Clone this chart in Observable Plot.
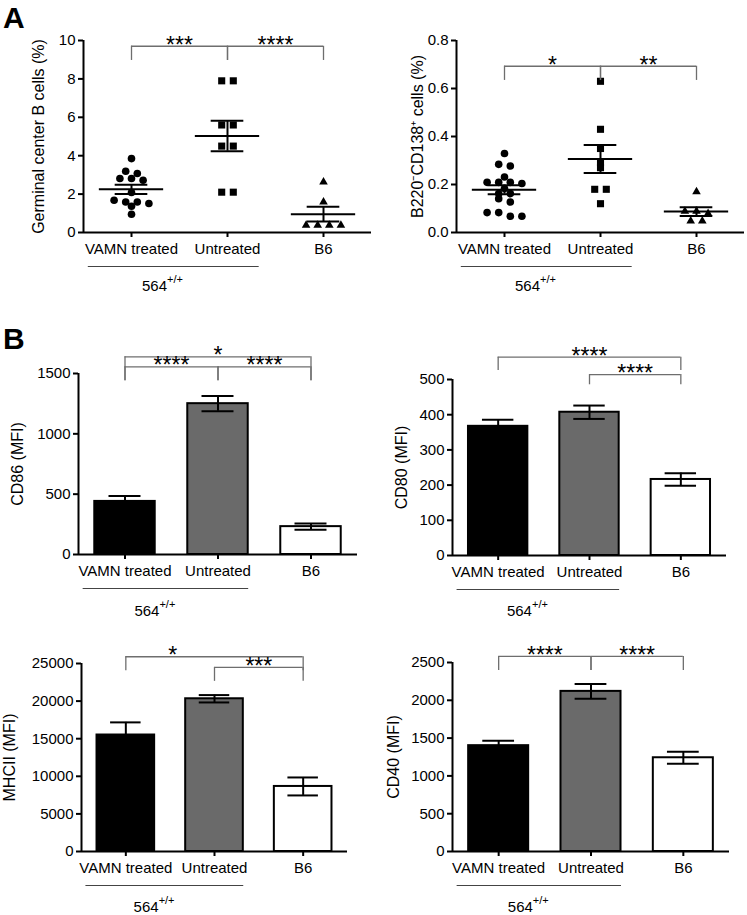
<!DOCTYPE html>
<html><head><meta charset="utf-8">
<script src="https://cdn.jsdelivr.net/npm/d3@7"></script>
<script src="https://cdn.jsdelivr.net/npm/@observablehq/plot@0.6"></script>
<style>
body{margin:0;background:#fff;}
#root{position:relative;width:747px;height:915px;overflow:hidden;background:#fff;font-family:"Liberation Sans",Arial,sans-serif;}
.panel{position:absolute;}
.panel svg{overflow:visible;}
.letter{position:absolute;left:3px;font-weight:bold;font-size:30px;line-height:30px;font-family:"Liberation Sans",Arial,sans-serif;}
g[aria-label="x-axis tick"], g[aria-label="y-axis tick"]{stroke-width:2px;}
g[aria-label="x-axis"] .tick line, g[aria-label="y-axis"] .tick line{stroke-width:2px;}
</style></head><body><div id="root"></div>
<script>
// ---------- data ----------
const groups = ["VAMN treated", "Untreated", "B6"];
const barColors = ["#000000", "#6a6a6a", "#ffffff"];
const symbols = ["circle", "square", "triangle"];

// A left: Germinal center B cells (%)
const gcVamn = [3.85, 3.19, 3.07, 2.81, 2.72, 2.81, 2.08, 1.59, 1.51, 1.59, 1.68, 1.37, 0.95];
const gcUntreated = [7.9, 7.9, 5.6, 5.6, 4.5, 4.5, 2.1, 2.1];
const gcB6 = [2.63, 1.59, 0.38, 0.38, 0.38, 0.38];
const gcTicks = [0, 2, 4, 6, 8, 10];
const gcSig = [[0, 1, "***"], [1, 2, "****"]];

// A right: B220-CD138+ cells (%)
const pcVamn = [0.329, 0.284, 0.277, 0.231, 0.209, 0.209, 0.209, 0.204, 0.183, 0.162, 0.162, 0.141, 0.127, 0.083, 0.083, 0.068, 0.068];
const pcUntreated = [0.63, 0.43, 0.35, 0.29, 0.27, 0.18, 0.18, 0.12];
const pcB6 = [0.17, 0.089, 0.089, 0.079, 0.048, 0.048];
const pcTicks = [0, 0.2, 0.4, 0.6, 0.8];
const pcSig = [[0, 1, "*"], [1, 2, "**"]];

// B: MFI bars (mean, SEM)
const cd86Mean = [440, 1250, 231];
const cd86Sem = [44, 63, 25];
const cd86Ticks = [0, 500, 1000, 1500];
const cd86Sig = [[0, 2, "*"], [0, 1, "****"], [1, 2, "****"]];

const cd80Mean = [367, 407, 216];
const cd80Sem = [19, 19, 18];
const cd80Ticks = [0, 100, 200, 300, 400, 500];
const cd80Sig = [[0, 2, "****"], [1, 2, "****"]];

const mhcMean = [15490, 20310, 8650];
const mhcSem = [1680, 490, 1195];
const mhcTicks = [0, 5000, 10000, 15000, 20000, 25000];
const mhcSig = [[0, 2, "*"], [1, 2, "***"]];

const cd40Mean = [1400, 2118, 1240];
const cd40Sem = [66, 99, 78];
const cd40Ticks = [0, 500, 1000, 1500, 2000, 2500];
const cd40Sig = [[0, 1, "****"], [1, 2, "****"]];

const genotype = "564";
const genotypeSup = "+/+";

// ---------- layout ----------
const FONT = "'Liberation Sans', Arial, Helvetica, sans-serif";

function rowOffsets(values, pxY, tol, gap) {
  const idx = values.map((v, i) => i).sort((a, b) => values[b] - values[a]);
  const rows = [];
  for (const i of idx) {
    const row = rows[rows.length - 1];
    if (row && (values[row[0]] - values[i]) * pxY < tol) row.push(i);
    else rows.push([i]);
  }
  const off = new Array(values.length);
  for (const row of rows) row.forEach((i, k) => off[i] = (k - (row.length - 1) / 2) * gap);
  return off;
}

function makePanel(cfg) {
  const fw = cfg.width - cfg.mL - cfg.mR;
  const fh = cfg.height - cfg.mT - cfg.mB;
  const pxX = fw / 3, pxY = fh / cfg.yMax;
  const marks = [];
  if (cfg.series) {
    const sizes = [3.8, 4.0, 3.2];
    cfg.series.forEach((vals, g) => {
      const off = rowOffsets(vals, pxY, 4.5, 11.6);
      const pts = vals.map((v, i) => ({x: g + off[i] / pxX, v}));
      marks.push(Plot.dot(pts, {x: "x", y: "v", symbol: symbols[g], r: sizes[g], fill: "black", stroke: "none"}));
    });
    const stats = cfg.series.map((vals, g) => {
      const m = d3.mean(vals), s = d3.deviation(vals) / Math.sqrt(vals.length);
      return {g, m, lo: m - s, hi: m + s};
    });
    marks.push(Plot.ruleY(stats, {y: "m", x1: d => d.g - 0.335, x2: d => d.g + 0.335, stroke: "black", strokeWidth: 2}));
    marks.push(Plot.ruleY(stats, {y: "hi", x1: d => d.g - 0.17, x2: d => d.g + 0.17, stroke: "black", strokeWidth: 2}));
    marks.push(Plot.ruleY(stats, {y: "lo", x1: d => d.g - 0.17, x2: d => d.g + 0.17, stroke: "black", strokeWidth: 2}));
    marks.push(Plot.ruleX(stats, {x: "g", y1: "lo", y2: "hi", stroke: "black", strokeWidth: 2}));
  } else {
    const bars = cfg.mean.map((m, g) => ({g, m, lo: m - cfg.sem[g], hi: m + cfg.sem[g], c: barColors[g]}));
    marks.push(Plot.rectY(bars, {x1: d => d.g - 0.325, x2: d => d.g + 0.325, y1: 0, y2: "m", fill: "c", stroke: "black", strokeWidth: 2}));
    marks.push(Plot.ruleX(bars, {x: "g", y1: "lo", y2: "hi", stroke: "black", strokeWidth: 2}));
    marks.push(Plot.ruleY(bars, {y: "hi", x1: d => d.g - 0.172, x2: d => d.g + 0.172, stroke: "black", strokeWidth: 2}));
    marks.push(Plot.ruleY(bars, {y: "lo", x1: d => d.g - 0.172, x2: d => d.g + 0.172, stroke: "black", strokeWidth: 2}));
  }
  // significance brackets
  const br = cfg.sig.map(([a, b, label], k) => {
    const L = cfg.levels[k];
    return {a, b, label, top: L[0] * cfg.yMax, bot: L[1] * cfg.yMax, lx: L[2] !== undefined ? L[2] : (a + b) / 2};
  });
  const bStyle = {stroke: "#6e6e6e", strokeWidth: 1.3};
  marks.push(Plot.ruleY(br, {y: "top", x1: "a", x2: "b", ...bStyle}));
  marks.push(Plot.ruleX(br, {x: "a", y1: "bot", y2: "top", ...bStyle}));
  marks.push(Plot.ruleX(br, {x: "b", y1: "bot", y2: "top", ...bStyle}));
  marks.push(Plot.text(br, {x: "lx", y: "top", text: "label", fontSize: 23, dy: -1, fill: "black"}));
  // axis lines
  marks.push(Plot.ruleY([0], {stroke: "black", strokeWidth: 2}));
  marks.push(Plot.ruleX([-0.5], {stroke: "black", strokeWidth: 2}));
  // y title
  marks.push(Plot.text([cfg.yLabel], {frameAnchor: "left", textAnchor: "middle", rotate: -90, dx: cfg.labelDx, text: d => d, fontSize: 16, fill: "black"}));
  // genotype underline and label
  marks.push(Plot.ruleY([0], {x1: -0.45, x2: 1.33, dy: 34, stroke: "#444", strokeWidth: 1}));
  marks.push(Plot.text([genotype], {x: 0.37, y: 0, dy: cfg.gDy, textAnchor: "end", text: d => d, fontSize: 15, fill: "black"}));
  marks.push(Plot.text([genotypeSup], {x: 0.37, y: 0, dy: cfg.gDy - 7, textAnchor: "start", text: d => d, fontSize: 11, fill: "black"}));

  const svg = Plot.plot({
    width: cfg.width, height: cfg.height,
    marginLeft: cfg.mL, marginRight: cfg.mR, marginTop: cfg.mT, marginBottom: cfg.mB,
    style: {fontFamily: FONT, fontSize: "15px", color: "black", background: "transparent", overflow: "visible"},
    x: {domain: [-0.5, 2.5], ticks: [0, 1, 2], tickFormat: i => groups[i], tickSize: 5, tickPadding: 6, label: null},
    y: {domain: [0, cfg.yMax], ticks: cfg.ticks, tickFormat: cfg.fmt, tickSize: 5, tickPadding: 3, label: null},
    color: {type: "identity"},
    marks
  });
  const div = document.createElement("div");
  div.className = "panel";
  div.style.left = cfg.left + "px";
  div.style.top = cfg.top + "px";
  div.appendChild(svg);
  document.getElementById("root").appendChild(div);
}

const intFmt = d3.format("d");
makePanel({left: 0, top: 0, width: 373, height: 300, mL: 83, mR: 2, mT: 40, mB: 68, gDy: 54,
  yMax: 10, ticks: gcTicks, fmt: intFmt, yLabel: "Germinal center B cells (%)", labelDx: -45,
  series: [gcVamn, gcUntreated, gcB6], sig: gcSig, levels: [[0.970, 0.896], [0.970, 0.896]]});
makePanel({left: 373, top: 0, width: 374, height: 300, mL: 83, mR: 3, mT: 40, mB: 68, gDy: 54,
  yMax: 0.8, ticks: pcTicks, fmt: d3.format(".1f"), yLabel: "B220\u207BCD138\u207A cells (%)", labelDx: -39,
  series: [pcVamn, pcUntreated, pcB6], sig: pcSig, levels: [[0.866, 0.792], [0.866, 0.792]]});
makePanel({left: 0, top: 300, width: 373, height: 320, mL: 78, mR: 16, mT: 73, mB: 66, gDy: 57,
  yMax: 1500, ticks: cd86Ticks, fmt: intFmt, yLabel: "CD86 (MFI)", labelDx: -61,
  mean: cd86Mean, sem: cd86Sem, sig: cd86Sig, levels: [[1.092, 0.960], [1.037, 0.960], [1.037, 0.960]]});
makePanel({left: 373, top: 300, width: 374, height: 320, mL: 79, mR: 21, mT: 79, mB: 65, gDy: 56,
  yMax: 500, ticks: cd80Ticks, fmt: intFmt, yLabel: "CD80 (MFI)", labelDx: -51,
  mean: cd80Mean, sem: cd80Sem, sig: cd80Sig, levels: [[1.127, 1.051], [1.028, 0.970]]});
makePanel({left: 0, top: 620, width: 373, height: 295, mL: 81, mR: 26, mT: 43, mB: 64, gDy: 56,
  yMax: 25000, ticks: mhcTicks, fmt: intFmt, yLabel: "MHCII (MFI)", labelDx: -72,
  mean: mhcMean, sem: mhcSem, sig: mhcSig, levels: [[1.036, 0.961, 0.53], [0.979, 0.905]]});
makePanel({left: 373, top: 620, width: 374, height: 295, mL: 79, mR: 18, mT: 42, mB: 64, gDy: 56,
  yMax: 2500, ticks: cd40Ticks, fmt: intFmt, yLabel: "CD40 (MFI)", labelDx: -59,
  mean: cd40Mean, sem: cd40Sem, sig: cd40Sig, levels: [[1.032, 0.958], [1.032, 0.958]]});

for (const [t, top] of [["A", 3], ["B", 324]]) {
  const d = document.createElement("div");
  d.className = "letter";
  d.style.top = top + "px";
  d.textContent = t;
  document.getElementById("root").appendChild(d);
}
</script></body></html>
